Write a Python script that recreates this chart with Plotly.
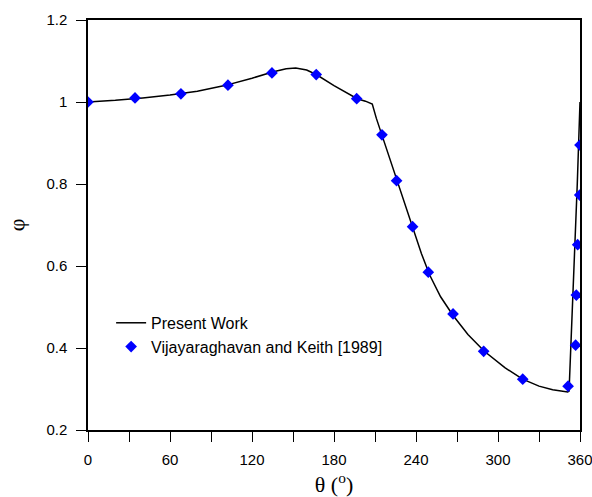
import plotly.graph_objects as go

# Present Work: computed curve (theta in degrees, phi)
theta_model = [0, 20, 40, 60, 80, 100, 120, 135, 145, 152, 160, 167, 180, 190, 197,
               203, 208, 211, 215, 220, 226, 232, 238, 244, 250, 258, 267, 278, 290,
               305, 318, 330, 340, 351, 352, 354, 356, 358, 360]
phi_model = [1.000, 1.004, 1.010, 1.017, 1.026, 1.040, 1.058, 1.073, 1.081, 1.083,
             1.078, 1.067, 1.040, 1.020, 1.008, 1.002, 0.995, 0.960, 0.920, 0.865,
             0.808, 0.750, 0.690, 0.630, 0.578, 0.525, 0.480, 0.433, 0.392, 0.352,
             0.324, 0.307, 0.298, 0.293, 0.295, 0.45, 0.62, 0.80, 1.000]

# Vijayaraghavan and Keith [1989]
theta_ref = [0, 34.4, 68, 102.4, 134.6, 167, 196.6, 215.1, 225.8, 237.5, 249.0,
             267.1, 289.5, 318.1, 351.3, 356.8, 357.3, 358.3, 359.8, 360]
phi_ref = [1.000, 1.010, 1.020, 1.041, 1.071, 1.067, 1.008, 0.920, 0.808, 0.696,
           0.585, 0.483, 0.392, 0.324, 0.307, 0.407, 0.529, 0.652, 0.773, 0.895]

x_tickvals = [0, 30, 60, 90, 120, 150, 180, 210, 240, 270, 300, 330, 360]
x_ticktext = ["0", "", "60", "", "120", "", "180", "", "240", "", "300", "", "360"]
y_tickvals = [0.2, 0.4, 0.6, 0.8, 1.0, 1.2]
y_ticktext = ["0.2", "0.4", "0.6", "0.8", "1", "1.2"]

fig = go.Figure()
fig.add_trace(go.Scatter(
    x=theta_model, y=phi_model, mode="lines", name="Present Work",
    line=dict(color="black", width=1.5),
))
fig.add_trace(go.Scatter(
    x=theta_ref, y=phi_ref, mode="markers", name="Vijayaraghavan and Keith [1989]",
    marker=dict(symbol="diamond", color="#0000FF", size=9, line=dict(width=0)),
))

tick_font = dict(family="Liberation Sans, Arial, sans-serif", size=15, color="black")
legend_font = dict(family="Liberation Sans, Arial, sans-serif", size=16, color="black")
fig.update_layout(
    width=592, height=497,
    margin=dict(l=88, r=12, t=20, b=67, autoexpand=False),
    paper_bgcolor="white", plot_bgcolor="white",
    showlegend=True,
    legend=dict(
        x=0.047, y=0.232, xanchor="left", yanchor="middle",
        bgcolor="rgba(0,0,0,0)", font=legend_font,
        tracegroupgap=0, itemwidth=30,
    ),
    xaxis=dict(
        range=[0, 360], tickmode="array", tickvals=x_tickvals, ticktext=x_ticktext,
        ticks="outside", ticklen=10, tickwidth=1.2, tickcolor="black",
        showline=True, linecolor="black", linewidth=1.5, mirror=True,
        showgrid=False, zeroline=False, tickfont=tick_font, automargin=False,
        ticklabelstandoff=5, ticklabeloverflow="allow",
        title=dict(text="θ (<sup>o</sup>)", standoff=10,
                   font=dict(family="Liberation Serif, Times New Roman, serif", size=22, color="black")),
    ),
    yaxis=dict(
        range=[0.2, 1.2], tickmode="array", tickvals=y_tickvals, ticktext=y_ticktext,
        ticks="outside", ticklen=10, tickwidth=1.2, tickcolor="black",
        showline=True, linecolor="black", linewidth=1.5, mirror=True,
        showgrid=False, zeroline=False, tickfont=tick_font, automargin=False,
        ticklabelstandoff=6, ticklabeloverflow="allow",
        title=dict(text="φ", standoff=16,
                   font=dict(family="Liberation Serif, Times New Roman, serif", size=22, color="black")),
    ),
)

fig.write_html("out.html")
